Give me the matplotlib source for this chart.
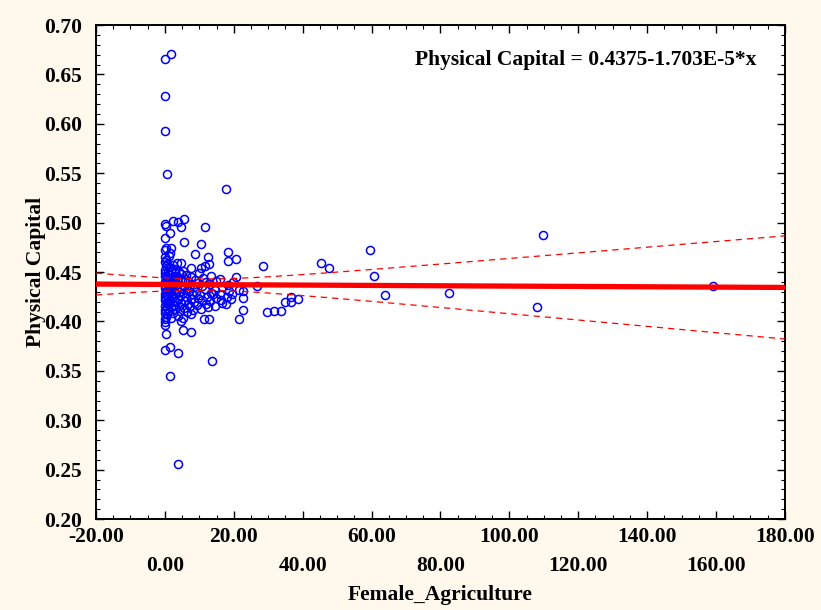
import numpy as np
import matplotlib
matplotlib.use("Agg")
import matplotlib.pyplot as plt
from matplotlib.ticker import MultipleLocator
from matplotlib.transforms import blended_transform_factory

# Observations: Female_Agriculture (x) vs Physical Capital (y)
female_agriculture = [
    0.0, 1.8, 0.0, 0.0, 0.6, 17.7,
    0.0, 0.3, 2.4, 3.8, 5.5, 4.6, 1.5, 0.0, 5.5, 11.6, 10.4, 0.0, 0.3, 1.7,
    1.5, 8.7, 18.3, 12.5, 18.3, 20.6, 0.3, 3.5, 4.6, 10.4, 11.6, 12.8, 7.5,
    28.4, 45.3, 47.6, 59.5, 60.7, 63.9, 82.4, 108.0, 109.7, 159.0,
    20.6, 26.7, 22.6, 21.5, 22.6, 29.6, 31.6, 33.7, 34.8, 36.6, 36.6, 38.6,
    18.6, 22.6, 21.5, 16.0, 14.0, 12.5, 16.5, 11.3, 12.8, 7.5, 5.2, 4.6,
    5.2, 7.5, 0.3, 0.0, 0.0, 1.5, 0.0, 3.8, 13.6, 1.5, 3.8,
    0.0, 0.2, 0.0, 0.1, 0.0, 0.3, 0.0, 0.1, 0.0, 0.2, 0.0, 0.1, 0.0, 0.3,
    0.0, 0.1, 0.0, 0.2, 0.0, 0.1,
    0.7, 0.5, 0.8, 0.6, 0.9, 0.5, 0.7, 0.9, 0.6,
    1.1, 1.3, 1.0, 1.4, 1.2, 1.0, 1.3, 1.1, 1.2,
    1.7, 1.9, 1.6, 2.0, 1.8, 1.7, 2.0, 1.8,
    2.3, 2.6, 2.4, 2.7, 2.3, 2.5, 2.8, 2.4,
    3.0, 3.3, 3.1, 3.4, 2.9, 3.2, 3.0,
    3.7, 4.0, 3.8, 4.1, 3.6, 3.9, 4.2,
    4.5, 4.8, 4.4, 4.7, 4.9, 4.6,
    5.4, 5.7, 5.2, 5.5, 5.8, 5.3,
    6.3, 6.6, 6.1, 6.4, 6.8, 6.2,
    7.2, 7.5, 7.0, 7.4, 7.7,
    8.2, 8.5, 8.0, 8.4, 8.7,
    9.3, 9.6, 9.1, 9.5, 9.8,
    10.5, 10.8, 10.3, 10.7, 11.0,
    11.8, 12.1, 11.6, 12.0,
    13.2, 13.5, 13.0, 13.4,
    14.6, 14.9, 14.4, 14.8,
    16.2, 16.5, 16.0,
    18.0, 18.3, 17.8,
    19.5, 19.8, 19.3,
]
physical_capital = [
    0.666, 0.671, 0.628, 0.593, 0.549, 0.534,
    0.499, 0.497, 0.502, 0.501, 0.504, 0.496, 0.490, 0.484, 0.480, 0.496, 0.478, 0.472, 0.474, 0.474,
    0.469, 0.468, 0.470, 0.465, 0.461, 0.463, 0.462, 0.459, 0.459, 0.454, 0.456, 0.458, 0.454,
    0.456, 0.459, 0.454, 0.472, 0.446, 0.427, 0.429, 0.415, 0.487, 0.436,
    0.445, 0.436, 0.424, 0.402, 0.412, 0.410, 0.411, 0.411, 0.420, 0.420, 0.425, 0.423,
    0.431, 0.431, 0.432, 0.428, 0.428, 0.415, 0.419, 0.403, 0.402, 0.408, 0.404, 0.400,
    0.391, 0.389, 0.387, 0.396, 0.399, 0.374, 0.371, 0.368, 0.360, 0.345, 0.256,
    0.402, 0.405, 0.409, 0.412, 0.416, 0.419, 0.422, 0.425, 0.428, 0.431, 0.434, 0.437, 0.440, 0.443,
    0.446, 0.449, 0.452, 0.456, 0.460, 0.465,
    0.408, 0.414, 0.420, 0.427, 0.433, 0.439, 0.445, 0.451, 0.458,
    0.411, 0.418, 0.424, 0.430, 0.436, 0.441, 0.448, 0.455, 0.466,
    0.404, 0.415, 0.421, 0.427, 0.434, 0.439, 0.444, 0.452,
    0.409, 0.417, 0.425, 0.431, 0.437, 0.443, 0.449, 0.457,
    0.413, 0.420, 0.428, 0.433, 0.440, 0.446, 0.453,
    0.406, 0.416, 0.423, 0.430, 0.438, 0.444, 0.450,
    0.411, 0.419, 0.426, 0.434, 0.442, 0.448,
    0.414, 0.421, 0.429, 0.436, 0.443, 0.451,
    0.410, 0.418, 0.425, 0.432, 0.441, 0.447,
    0.416, 0.423, 0.431, 0.437, 0.445,
    0.412, 0.420, 0.428, 0.435, 0.442,
    0.417, 0.424, 0.430, 0.439, 0.449,
    0.413, 0.422, 0.427, 0.436, 0.444,
    0.418, 0.425, 0.433, 0.440,
    0.421, 0.429, 0.438, 0.446,
    0.416, 0.424, 0.432, 0.441,
    0.422, 0.435, 0.443,
    0.425, 0.437, 0.418,
    0.428, 0.440, 0.423,
]

# Fitted regression: Physical Capital = 0.4375 - 1.703E-5 * x
intercept = 0.4375
slope = -1.703e-5

x_ticks = [-20, 0, 20, 40, 60, 80, 100, 120, 140, 160, 180]
x_tick_labels = ["-20.00", "0.00", "20.00", "40.00", "60.00", "80.00",
                 "100.00", "120.00", "140.00", "160.00", "180.00"]
y_ticks = [0.20, 0.25, 0.30, 0.35, 0.40, 0.45, 0.50, 0.55, 0.60, 0.65, 0.70]

serif = ["Liberation Serif", "DejaVu Serif"]
plt.rcParams["font.family"] = serif
plt.rcParams["font.weight"] = "bold"
FS = 15.5

bg = "#FEF9EC"
fig = plt.figure(figsize=(8.21, 6.10), dpi=100, facecolor=bg)
ax = fig.add_axes([0.117, 0.149, 0.839, 0.810])
ax.set_facecolor("white")

x = np.asarray(female_agriculture, float)
y = np.asarray(physical_capital, float)

# 95% confidence band around the fitted line
n = len(x)
resid = y - (intercept + slope * x)
s = np.sqrt(np.sum(resid ** 2) / (n - 2))
xbar = x.mean()
sxx = np.sum((x - xbar) ** 2)
xs = np.linspace(-20, 180, 400)
fit = intercept + slope * xs
half = 1.97 * s * np.sqrt(1.0 / n + (xs - xbar) ** 2 / sxx)

ax.plot(x, y, linestyle="none", marker="o", markersize=5.8,
        markerfacecolor="none", markeredgecolor="#0000FF",
        markeredgewidth=1.1, zorder=3)
ax.plot(xs, fit, color="#FF0000", lw=3.8, zorder=4)
ax.plot(xs, fit + half, color="#FF0000", lw=0.9, ls=(0, (5, 4)), zorder=4)
ax.plot(xs, fit - half, color="#FF0000", lw=0.9, ls=(0, (5, 4)), zorder=4)

ax.set_xlim(-20, 180)
ax.set_ylim(0.20, 0.70)

ax.set_yticks(y_ticks)
ax.set_yticklabels([f"{v:.2f}" for v in y_ticks], fontsize=FS, fontweight="bold")
ax.yaxis.set_minor_locator(MultipleLocator(0.01))
ax.set_xticks(x_ticks)
ax.set_xticklabels([])
ax.xaxis.set_minor_locator(MultipleLocator(5))

ax.tick_params(which="both", direction="in", top=True, right=True, color="black")
ax.tick_params(which="major", length=6, width=1.0)
ax.tick_params(axis="y", which="major", pad=10)
ax.tick_params(which="minor", length=3, width=0.8)
ax.tick_params(axis="x", which="major", labelbottom=False)

# Two-row staggered x tick labels
trans = blended_transform_factory(ax.transData, ax.transAxes)
for i, (t, lab) in enumerate(zip(x_ticks, x_tick_labels)):
    ypos = -0.037 if i % 2 == 0 else -0.095
    ax.text(t, ypos, lab, transform=trans, ha="center", va="center",
            fontsize=FS, fontweight="bold", clip_on=False)

for sp in ax.spines.values():
    sp.set_linewidth(1.4)
    sp.set_color("black")

ax.set_ylabel("Physical Capital", fontsize=FS, fontweight="bold", labelpad=-1)
fig.text(0.536, 0.025, "Female_Agriculture", ha="center", va="center",
         fontsize=FS, fontweight="bold")

ax.text(0.958, 0.929, "Physical Capital = 0.4375-1.703E-5*x",
        transform=ax.transAxes, ha="right", va="center",
        fontsize=FS, fontweight="bold")

fig.savefig("out.png", dpi=100, facecolor=bg)
